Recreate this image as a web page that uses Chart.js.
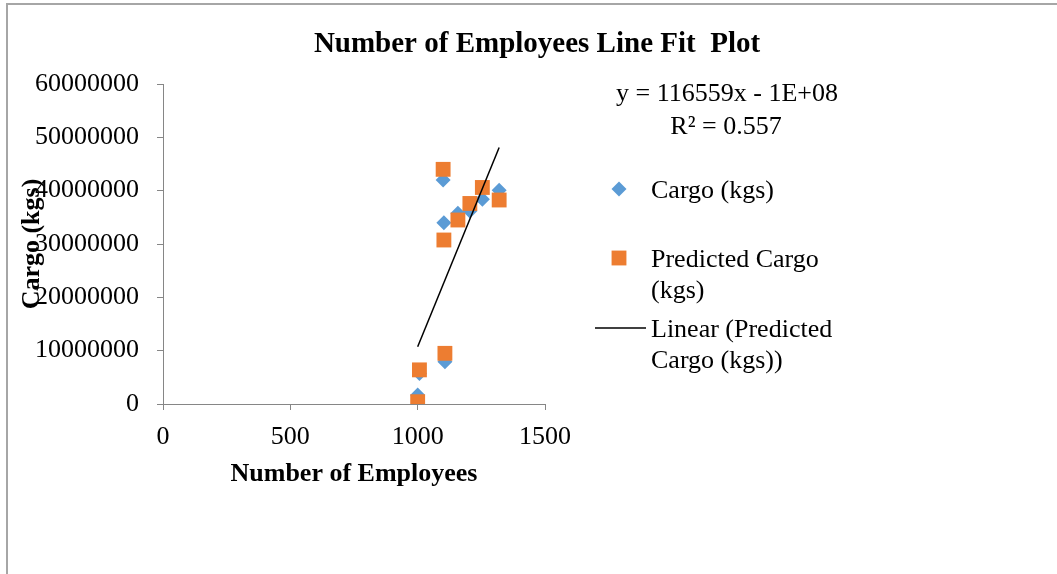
<!DOCTYPE html>
<html>
<head>
<meta charset="utf-8">
<script src="https://cdn.jsdelivr.net/npm/chart.js@4.4.1/dist/chart.umd.min.js"></script>
<style>
    html, body { margin: 0; padding: 0; background: #fff; }
    #wrap { width: 1057px; height: 574px; position: relative; }
</style>
</head>
<body>
<div id="wrap"><canvas id="myChart" width="1057" height="574"></canvas></div>
<script>
// Data
const employees = [1000, 1007, 1100, 1103, 1107, 1158, 1205, 1254, 1320];
const cargo = [1700000, 5700000, 42000000, 34000000, 7900000, 35750000, 36200000, 38400000, 40100000];
const predictedCargo = [430000, 6400000, 44000000, 30750000, 9500000, 34500000, 37600000, 40600000, 38250000];
const trendX = [1000, 1320];
const trendY = [10750000, 48100000];

const chartTitle = 'Number of Employees Line Fit  Plot';
const xTitle = 'Number of Employees';
const yTitle = 'Cargo (kgs)';
const trendEquation = 'y = 116559x - 1E+08';
const trendR2 = 'R\u00b2 = 0.557';
const seriesLabels = ['Cargo (kgs)', 'Predicted Cargo (kgs)', 'Linear (Predicted Cargo (kgs))'];

const FONT = '"Liberation Serif", "Times New Roman", serif';
const AXIS_GREY = '#868686';

Chart.defaults.font.family = FONT;
Chart.defaults.color = '#000';

function toPoints(xs, ys) {
    return xs.map((x, i) => ({ x: x, y: ys[i] }));
}

// Wraps a legend label into lines no wider than maxWidth
function wrapText(ctx, text, maxWidth) {
    const words = text.split(' ');
    const lines = [];
    let line = '';
    words.forEach(w => {
        const test = line ? line + ' ' + w : w;
        if (ctx.measureText(test).width > maxWidth && line) {
            lines.push(line);
            line = w;
        } else {
            line = test;
        }
    });
    if (line) lines.push(line);
    return lines;
}

// Outer frame, title, trendline label and the legend on the right
const decorPlugin = {
    id: 'decor',
    beforeDraw(chart) {
        const ctx = chart.ctx;
        ctx.save();
        ctx.fillStyle = '#fff';
        ctx.fillRect(0, 0, chart.width, chart.height);
        ctx.strokeStyle = '#a6a6a6';
        ctx.lineWidth = 2;
        ctx.beginPath();
        ctx.moveTo(7, chart.height);
        ctx.lineTo(7, 4);
        ctx.lineTo(chart.width, 4);
        ctx.stroke();
        ctx.restore();
    },
    afterDraw(chart) {
        const ctx = chart.ctx;
        ctx.save();
        ctx.fillStyle = '#000';
        ctx.textBaseline = 'middle';

        // title
        ctx.font = 'bold 29px ' + FONT;
        ctx.textAlign = 'center';
        ctx.fillText(chartTitle, 537, 45);

        // trendline label
        ctx.font = '26px ' + FONT;
        ctx.fillText(trendEquation, 727, 94);
        ctx.fillText(trendR2, 726, 127);

        // legend
        const itemY = [189, 258, 328];
        ctx.textAlign = 'left';
        chart.data.datasets.forEach((ds, i) => {
            const y = itemY[i];
            if (ds.showLine) {
                ctx.strokeStyle = ds.borderColor;
                ctx.lineWidth = ds.borderWidth;
                ctx.beginPath();
                ctx.moveTo(595, y);
                ctx.lineTo(646, y);
                ctx.stroke();
            } else {
                ctx.fillStyle = ds.backgroundColor;
                ctx.strokeStyle = ds.backgroundColor;
                Chart.helpers.drawPoint(ctx, {
                    pointStyle: ds.pointStyle,
                    radius: ds.pointRadius,
                    borderWidth: 0
                }, 619, y);
            }
            ctx.fillStyle = '#000';
            const lines = wrapText(ctx, ds.label, 200);
            lines.forEach((ln, j) => ctx.fillText(ln, 651, y + 2 + j * 31));
        });
        ctx.restore();
    }
};

const ctx = document.getElementById('myChart').getContext('2d');
const myChart = new Chart(ctx, {
    type: 'scatter',
    data: {
        datasets: [{
            label: seriesLabels[0],
            data: toPoints(employees, cargo),
            pointStyle: 'rectRot',
            pointRadius: 7.5,
            pointHoverRadius: 7.5,
            backgroundColor: '#5b9bd5',
            borderColor: '#5b9bd5',
            borderWidth: 0,
            order: 3
        }, {
            label: seriesLabels[1],
            data: toPoints(employees, predictedCargo),
            pointStyle: 'rect',
            pointRadius: 10.5,
            pointHoverRadius: 10.5,
            backgroundColor: '#ed7d31',
            borderColor: '#ed7d31',
            borderWidth: 0,
            order: 2
        }, {
            label: seriesLabels[2],
            data: toPoints(trendX, trendY),
            showLine: true,
            pointRadius: 0,
            borderColor: '#000',
            borderWidth: 1.5,
            order: 1
        }]
    },
    options: {
        responsive: false,
        animation: false,
        layout: { padding: { left: 6, right: 512, top: 84, bottom: 84 } },
        plugins: {
            legend: { display: false },
            title: { display: false },
            tooltip: { enabled: false }
        },
        scales: {
            x: {
                type: 'linear',
                min: 0,
                max: 1500,
                ticks: { stepSize: 500, font: { size: 26 }, padding: 12, color: '#000', callback: v => String(v) },
                grid: { drawOnChartArea: false, drawTicks: true, tickLength: 6, color: AXIS_GREY },
                border: { color: AXIS_GREY, width: 1 },
                title: { display: true, text: xTitle, font: { size: 26, weight: 'bold' }, padding: { top: 2, bottom: 0 } },
                afterFit(scale) { scale.height = 86; }
            },
            y: {
                type: 'linear',
                min: 0,
                max: 60000000,
                ticks: {
                    stepSize: 10000000,
                    font: { size: 26 },
                    padding: 18,
                    color: '#000',
                    callback: v => String(v)
                },
                grid: { drawOnChartArea: false, drawTicks: true, tickLength: 6, color: AXIS_GREY },
                border: { color: AXIS_GREY, width: 1 },
                title: { display: true, text: yTitle, font: { size: 26, weight: 'bold' }, padding: { top: 11 } },
                afterFit(scale) { scale.width = 157; }
            }
        }
    },
    plugins: [decorPlugin]
});
</script>
</body>
</html>
